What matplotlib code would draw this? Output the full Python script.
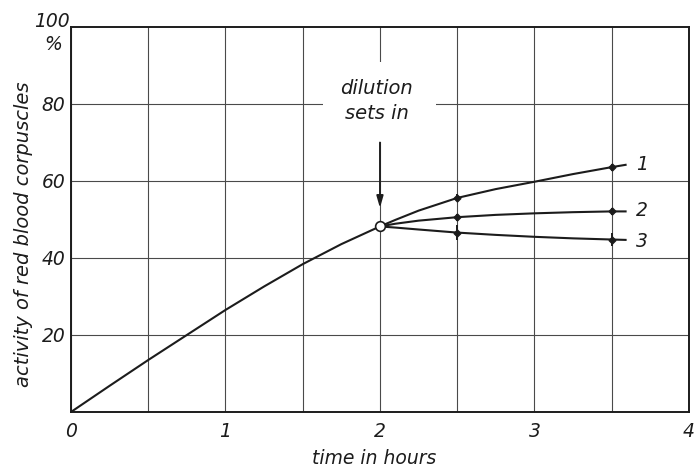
import matplotlib
matplotlib.use("Agg")
import matplotlib.pyplot as plt
from matplotlib.patches import Rectangle

plt.rcParams["font.family"] = ["DejaVu Sans"]
plt.rcParams["font.style"] = "italic"

INK = "#1c1c1c"
GRID = "#4a4a4a"

# common curve before dilution
time_before = [0, 0.25, 0.5, 0.75, 1.0, 1.25, 1.5, 1.75, 2.0]
activity_before = [0, 6.8, 13.5, 20.0, 26.5, 32.6, 38.4, 43.6, 48.2]

# three branches after dilution (start at x=2, end at ~3.6)
time_after = [2.0, 2.1, 2.25, 2.5, 2.75, 3.0, 3.25, 3.5, 3.59]
activity_1 = [48.2, 49.9, 52.3, 55.6, 57.9, 59.8, 61.8, 63.6, 64.2]
activity_2 = [48.2, 48.9, 49.7, 50.6, 51.2, 51.6, 51.9, 52.1, 52.1]
activity_3 = [48.2, 47.9, 47.4, 46.6, 46.0, 45.5, 45.1, 44.8, 44.7]

# measured points with their spread
point_times = [2.5, 3.5]
points_1 = [55.6, 63.6]
points_2 = [50.6, 52.1]
points_3 = [46.6, 44.8]
spread_1 = [0.9, 0.9]
spread_2 = [0.9, 0.9]
spread_3 = [2.0, 1.8]

curve_labels = ["1", "2", "3"]
label_y = [64.4, 52.3, 44.4]

grid_x = [0, 0.5, 1, 1.5, 2, 2.5, 3, 3.5, 4]
y_ticks = [20, 40, 60, 80]

fig = plt.figure(figsize=(6.98, 4.68), dpi=100)
ax = fig.add_axes((0.1017, 0.1197, 0.8853, 0.8226))

ax.set_xlim(0, 4)
ax.set_ylim(0, 100)

# grid every half hour / 20 %, labels only on whole hours
ax.set_xticks(grid_x)
ax.set_xticklabels([str(int(t)) if t == int(t) else "" for t in grid_x])
ax.set_yticks(y_ticks)
ax.set_yticklabels([str(t) for t in y_ticks])
ax.grid(True, color=GRID, lw=0.8)
ax.set_axisbelow(True)
ax.tick_params(length=0, labelsize=13.5, colors=INK)
ax.tick_params(axis="x", pad=7)
ax.tick_params(axis="y", pad=4)
for s in ax.spines.values():
    s.set_linewidth(1.4)
    s.set_color(INK)

# white gap in the grid behind the annotation
ax.add_patch(Rectangle((1.634, 70), 0.726, 21, facecolor="white",
                       edgecolor="none", zorder=1))

# curves
ax.plot(time_before, activity_before, color=INK, lw=1.5, zorder=3)
for ys in (activity_1, activity_2, activity_3):
    ax.plot(time_after, ys, color=INK, lw=1.5, zorder=3)

for ys, err in ((points_1, spread_1), (points_2, spread_2), (points_3, spread_3)):
    ax.errorbar(point_times, ys, yerr=err, fmt="D", ms=3.5, color=INK,
                ecolor=INK, elinewidth=1.4, capsize=0, zorder=4)

# dilution point
ax.plot([time_before[-1]], [activity_before[-1]], "o", ms=7, mfc="white",
        mec=INK, mew=1.2, zorder=5)

# arrow and text
ax.annotate("", xy=(2, 53), xytext=(2, 70),
            arrowprops=dict(arrowstyle="-|>,head_length=0.7,head_width=0.2",
                            color=INK, lw=1.3, shrinkA=0, shrinkB=0),
            zorder=5)
ax.text(1.98, 80.8, "dilution\nsets in", ha="center", va="center",
        fontsize=14, color=INK, linespacing=1.4, zorder=5)

for lab, y in zip(curve_labels, label_y):
    ax.text(3.66, y, lab, ha="left", va="center", fontsize=13.5, color=INK)

# 100 % label at the top of the y axis
ax.text(-0.009, 101.5, "100", ha="right", va="center",
        fontsize=13.5, color=INK, clip_on=False)
ax.text(-0.06, 95.5, "%", ha="right", va="center", fontsize=13.5,
        color=INK, clip_on=False)

ax.set_xlabel("time in hours", fontsize=13.5, color=INK)
ax.xaxis.set_label_coords(0.49, -0.095)
ax.xaxis.label.set_va("top")
ax.set_ylabel("activity of red blood corpuscles", fontsize=14, color=INK)
ax.yaxis.set_label_coords(-0.062, 0.462)

fig.savefig("out.png", dpi=100, facecolor="white")
